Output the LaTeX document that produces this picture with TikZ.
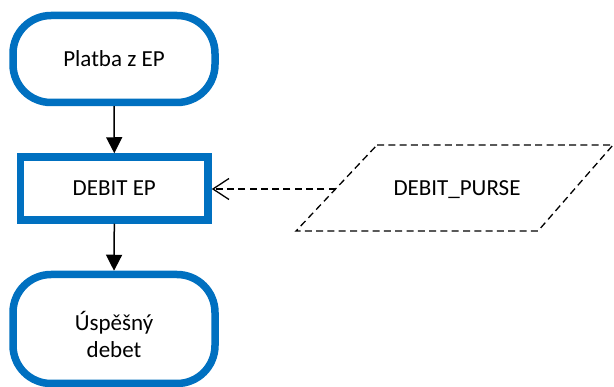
\documentclass[tikz,border=0pt]{standalone}
\usepackage{fontspec}
\setmainfont{Carlito}
\usetikzlibrary{arrows.meta}
\definecolor{flowblue}{HTML}{0070C0}
\begin{document}
\begin{tikzpicture}[x=1pt,y=-1pt,
  font=\fontsize{23}{27}\selectfont,
  terminal/.style={draw=flowblue, line width=7.5pt, rounded corners=38pt, fill=white,
     minimum width=202pt, align=center, inner sep=0pt},
  process/.style={draw=flowblue, line width=7.5pt, fill=white,
     minimum width=187.5pt, minimum height=63pt, inner sep=0pt},
  flow/.style={line width=1.5pt, -{Triangle[length=16pt,width=16pt]}},
  dataflow/.style={line width=1.3pt, dash pattern=on 7pt off 4.3pt, -{Straight Barb[length=16pt,width=21pt,line width=1.3pt]}},
  dataedge/.style={line width=1.3pt, dash pattern=on 7pt off 4.3pt, line join=miter}
]
\useasboundingbox (0,0) rectangle (614,387);
\node[terminal, minimum height=87pt] (start) at (114,59) {Platba z EP};
\node[process] (debit) at (114.3,188.5) {DEBIT EP};
\node[terminal, minimum height=109pt,
  label={[align=center, yshift=-5pt, font=\fontsize{23}{27}\selectfont]center:Úspěšný\\debet}] (end) at (114,329) {};
% data parallelogram
\coordinate (p1) at (377,145);
\coordinate (p2) at (613,145);
\coordinate (p3) at (538,231);
\coordinate (p4) at (296,231);
\draw[dataedge] (p1) -- (p2) -- (p3) -- (p4) -- cycle;
\node (purse) at (457,190) {DEBIT\_PURSE};
\coordinate (pin) at (335.6,189);
\draw[flow] (start.south) -- (debit.north);
\draw[flow] (debit.south) -- (end.north);
\draw[dataflow] (pin) -- (debit.east |- pin);
\end{tikzpicture}
\end{document}
